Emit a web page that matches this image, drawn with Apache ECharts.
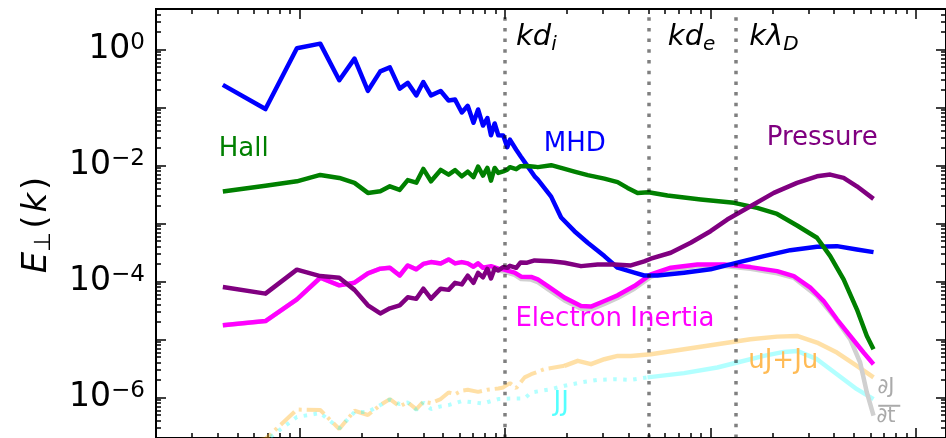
<!DOCTYPE html>
<html>
<head>
<meta charset="utf-8">
<title>Perpendicular electric field spectrum</title>
<script src="https://cdn.jsdelivr.net/npm/echarts@6.0.0/dist/echarts.min.js"></script>
<style>
  html, body { margin: 0; padding: 0; background: #fff; }
  #chart { width: 946px; height: 438px; }
</style>
</head>
<body>
<div id="chart"></div>
<script>
// ---- spectra of the terms of E_perp(k), k in units of 1/d_i ----
const kMHD = [0.0423, 0.0682, 0.097, 0.126, 0.156, 0.185, 0.215, 0.247, 0.275, 0.307,
  0.336, 0.370, 0.400, 0.436, 0.486, 0.531, 0.571, 0.616, 0.658, 0.702,
  0.739, 0.781, 0.820, 0.854, 0.890, 0.927, 0.980, 1.025, 1.056, 1.133,
  1.190, 1.281, 1.392, 1.444, 1.676, 1.874, 2.176, 2.525, 3.043, 3.530,
  4.255, 4.756, 5.520, 7.436, 10.0, 13.49, 18.18, 24.47, 32.97, 41.24, 51.56, 62.14];
const eMHD = [0.246, 0.094, 1.053, 1.263, 0.296, 0.697, 0.194, 0.420, 0.492, 0.212,
  0.266, 0.162, 0.275, 0.162, 0.193, 0.132, 0.137, 0.0821, 0.107, 0.0546,
  0.0925, 0.0489, 0.0658, 0.0333, 0.0531, 0.0333, 0.0329, 0.0207, 0.0279, 0.0187,
  0.0144, 0.00994, 0.00651, 0.00571, 0.00291, 0.00127, 7.37e-4, 4.65e-4, 2.74e-4, 1.73e-4,
  1.42e-4, 1.27e-4, 1.27e-4, 1.42e-4, 1.62e-4, 2.11e-4, 2.74e-4, 3.47e-4, 3.97e-4, 4.07e-4, 3.57e-4, 3.21e-4];

const kHall = [0.0423, 0.0682, 0.097, 0.126, 0.156, 0.185, 0.215, 0.247, 0.275, 0.307,
  0.336, 0.370, 0.400, 0.436, 0.486, 0.531, 0.571, 0.616, 0.658, 0.702,
  0.739, 0.781, 0.820, 0.854, 0.890, 0.927, 0.980, 1.025, 1.056, 1.133,
  1.190, 1.281, 1.392, 1.444, 1.676, 1.874, 2.176, 2.525, 3.043, 3.530,
  3.947, 4.414, 4.99, 6.171, 8.954, 13.00, 16.87, 21.10, 26.37, 32.97,
  38.25, 44.44, 51.56, 57.66, 62.14];
const eHall = [0.00355, 0.00447, 0.00534, 0.00688, 0.00611, 0.00501, 0.00337, 0.00359, 0.00438, 0.0038,
  0.0056, 0.00507, 0.00873, 0.00534, 0.00839, 0.00697, 0.00832, 0.00651, 0.00784, 0.0063,
  0.00956, 0.00669, 0.00908, 0.00549, 0.00908, 0.00745, 0.00793, 0.00849, 0.00937, 0.00866,
  0.00975, 0.00983, 0.00956, 0.00937, 0.01014, 0.00908, 0.00784, 0.00683, 0.00594, 0.00517,
  0.00411, 0.00337, 0.00345, 0.00303, 0.00259, 0.00227, 0.00186, 0.00146, 9.23e-4, 5.67e-4,
  2.74e-4, 1.09e-4, 3.31e-5, 1.15e-5, 6.8e-6];

const kPressure = [0.0423, 0.0682, 0.097, 0.126, 0.156, 0.185, 0.215, 0.247, 0.275, 0.307,
  0.336, 0.370, 0.400, 0.436, 0.486, 0.531, 0.571, 0.616, 0.658, 0.702,
  0.739, 0.781, 0.820, 0.854, 0.890, 0.927, 0.980, 1.025, 1.056, 1.133,
  1.190, 1.281, 1.392, 1.676, 1.946, 2.343, 2.823, 3.402, 4.096, 4.756,
  5.122, 6.404, 8.007, 10.0, 12.06, 15.65, 20.33, 26.37, 32.97, 38.25,
  44.44, 51.56, 62.14];
const ePressure = [8.02e-5, 6.17e-5, 1.60e-4, 1.24e-4, 1.16e-4, 7.17e-5, 3.88e-5, 2.81e-5, 3.45e-5, 3.88e-5,
  5.33e-5, 5.02e-5, 7.52e-5, 5.06e-5, 7.52e-5, 7.17e-5, 9.47e-5, 8.92e-5, 1.26e-4, 9.47e-5,
  1.41e-4, 1.18e-4, 1.65e-4, 1.13e-4, 1.68e-4, 1.55e-4, 1.78e-4, 1.72e-4, 1.86e-4, 1.72e-4,
  2.13e-4, 2.11e-4, 2.31e-4, 2.24e-4, 2.11e-4, 1.84e-4, 1.97e-4, 1.97e-4, 1.89e-4, 2.22e-4,
  2.47e-4, 3.13e-4, 4.65e-4, 7.37e-4, 1.17e-3, 1.98e-3, 3.37e-3, 5.01e-3, 6.51e-3, 6.97e-3,
  6.11e-3, 4.38e-3, 2.66e-3];

const kInertia = [0.0423, 0.0682, 0.097, 0.126, 0.156, 0.185, 0.215, 0.247, 0.275, 0.307,
  0.336, 0.370, 0.400, 0.436, 0.486, 0.531, 0.571, 0.616, 0.658, 0.702,
  0.739, 0.781, 0.854, 0.927, 0.980, 1.113, 1.198, 1.340, 1.444, 1.615,
  1.946, 2.343, 2.620, 3.043, 3.530, 4.255, 5.122, 6.404, 8.630, 11.63,
  15.65, 21.10, 25.42, 30.60, 35.54, 41.24, 47.84, 55.57, 62.14];
const eInertia = [1.76e-5, 2.08e-5, 4.93e-5, 1.16e-4, 8.58e-5, 9.54e-5, 1.38e-4, 1.66e-4, 1.73e-4, 1.27e-4,
  1.89e-4, 1.62e-4, 2.01e-4, 2.16e-4, 2.05e-4, 2.40e-4, 2.05e-4, 2.16e-4, 2.05e-4, 1.80e-4,
  2.05e-4, 1.73e-4, 1.84e-4, 1.66e-4, 1.62e-4, 1.42e-4, 1.21e-4, 1.20e-4, 1.09e-4, 8.34e-5,
  5.27e-5, 3.78e-5, 3.69e-5, 4.60e-5, 5.77e-5, 8.34e-5, 1.33e-4, 1.73e-4, 1.97e-4, 1.97e-4,
  1.77e-4, 1.51e-4, 1.24e-4, 7.83e-5, 4.60e-5, 2.23e-5, 1.15e-5, 5.96e-6, 3.75e-6];

const kDJdt = [0.0423, 0.0682, 0.097, 0.126, 0.156, 0.185, 0.215, 0.247, 0.275, 0.307,
  0.336, 0.370, 0.400, 0.436, 0.486, 0.531, 0.571, 0.616, 0.658, 0.702,
  0.739, 0.781, 0.854, 0.927, 0.980, 1.113, 1.198, 1.340, 1.444, 1.615,
  1.946, 2.343, 2.620, 3.043, 3.530, 4.255, 5.122, 6.404, 8.630, 11.63,
  15.65, 21.10, 25.42, 32.97, 39.73, 47.84, 53.49, 57.66, 62.14];
const eDJdt = [1.76e-5, 2.08e-5, 4.93e-5, 1.16e-4, 8.58e-5, 9.54e-5, 1.38e-4, 1.66e-4, 1.73e-4, 1.27e-4,
  1.89e-4, 1.62e-4, 2.01e-4, 2.16e-4, 2.05e-4, 2.40e-4, 2.05e-4, 2.16e-4, 2.05e-4, 1.80e-4,
  2.05e-4, 1.73e-4, 1.72e-4, 1.55e-4, 1.50e-4, 1.30e-4, 1.10e-4, 1.08e-4, 9.7e-5, 7.4e-5,
  4.7e-5, 3.4e-5, 3.3e-5, 4.1e-5, 5.2e-5, 7.5e-5, 1.2e-4, 1.6e-4, 1.85e-4, 1.85e-4,
  1.65e-4, 1.38e-4, 1.16e-4, 5.61e-5, 2.54e-5, 1.01e-5, 4.01e-6, 1.22e-6, 4.84e-7];

const kUJ = [0.0423, 0.0682, 0.097, 0.126, 0.156, 0.185, 0.215, 0.247, 0.275, 0.307,
  0.336, 0.370, 0.400, 0.436, 0.486, 0.531, 0.571, 0.616, 0.658, 0.739,
  0.820, 0.927, 0.980, 1.056, 1.133, 1.245, 1.340, 1.556, 1.946, 2.258,
  2.620, 3.043, 3.530, 4.096, 5.122, 7.436, 10.79, 15.65, 21.10, 26.37,
  32.97, 41.24, 51.56, 62.14];
const eUJ = [1.5e-7, 1.92e-7, 6.19e-7, 6.07e-7, 2.86e-7, 5.90e-7, 4.98e-7, 7.39e-7, 9.38e-7, 7.02e-7,
  8.23e-7, 6.31e-7, 8.43e-7, 8.00e-7, 9.38e-7, 1.22e-6, 1.14e-6, 1.31e-6, 1.36e-6, 1.25e-6,
  1.36e-6, 1.43e-6, 1.49e-6, 1.77e-6, 1.45e-6, 2.22e-6, 2.52e-6, 3.08e-6, 3.51e-6, 4.28e-6,
  3.75e-6, 4.57e-6, 5.21e-6, 5.21e-6, 5.57e-6, 6.80e-6, 8.29e-6, 1.01e-5, 1.12e-5, 1.15e-5,
  8.86e-6, 5.96e-6, 3.51e-6, 2.22e-6];

const kJJ = [0.0423, 0.0682, 0.097, 0.126, 0.156, 0.185, 0.215, 0.247, 0.275, 0.307,
  0.336, 0.370, 0.400, 0.436, 0.486, 0.531, 0.616, 0.702, 0.781, 0.854,
  0.927, 1.056, 1.245, 1.340, 1.676, 1.946, 2.343, 2.823, 3.402, 4.096,
  4.935, 7.436, 10.79, 13.49, 18.18, 22.73, 26.37, 32.97, 41.24, 51.56, 62.14];
const eJJ = [1.2e-7, 1.8e-7, 4.60e-7, 5.39e-7, 2.94e-7, 5.61e-7, 5.61e-7, 7.39e-7, 9.19e-7, 7.69e-7,
  8.16e-7, 6.14e-7, 8.16e-7, 6.31e-7, 7.02e-7, 7.39e-7, 8.66e-7, 8.23e-7, 7.85e-7, 8.66e-7,
  9.38e-7, 9.56e-7, 9.64e-7, 1.22e-6, 1.39e-6, 1.59e-6, 1.82e-6, 2.01e-6, 2.07e-6, 2.01e-6,
  2.22e-6, 2.63e-6, 3.29e-6, 4.01e-6, 5.21e-6, 6.11e-6, 6.35e-6, 4.57e-6, 2.52e-6, 1.39e-6, 9.38e-7];

// characteristic scales: k d_i = 1, k d_e = 1, k lambda_D = 1
const scaleK = [1.0, 5.0, 13.34];
const scaleNames = [['kd', 'i'], ['kd', 'e'], ['k\u03bb', 'D']];

// axis ranges and tick values
const X_RANGE = [0.02, 140];
const Y_RANGE = [2e-7, 5];
const xMajorTicks = [0.1, 1, 10, 100];
const xMinorTicks = [0.03, 0.04, 0.05, 0.06, 0.07, 0.08, 0.09,
  0.2, 0.3, 0.4, 0.5, 0.6, 0.7, 0.8, 0.9,
  2, 3, 4, 5, 6, 7, 8, 9,
  20, 30, 40, 50, 60, 70, 80, 90];
const yMajorTicks = [1e-6, 1e-5, 1e-4, 1e-3, 1e-2, 1e-1, 1];
const yLabelTicks = [1e-6, 1e-4, 1e-2, 1];
const yMinorTicks = [3e-7, 4e-7, 5e-7, 6e-7, 7e-7, 8e-7, 9e-7,
  2e-6, 3e-6, 4e-6, 5e-6, 6e-6, 7e-6, 8e-6, 9e-6,
  2e-5, 3e-5, 4e-5, 5e-5, 6e-5, 7e-5, 8e-5, 9e-5,
  2e-4, 3e-4, 4e-4, 5e-4, 6e-4, 7e-4, 8e-4, 9e-4,
  2e-3, 3e-3, 4e-3, 5e-3, 6e-3, 7e-3, 8e-3, 9e-3,
  0.02, 0.03, 0.04, 0.05, 0.06, 0.07, 0.08, 0.09,
  0.2, 0.3, 0.4, 0.5, 0.6, 0.7, 0.8, 0.9,
  2, 3, 4];

// ---- drawing ----
const FONT = '"DejaVu Sans", sans-serif';
const INK = '#000';
const decades = v => Math.log10(v);

const zip = (ks, vs) => ks.map((k, i) => [k, vs[i]]);

// log axes that carry the data (spines only)
function dataAxis(range, position) {
  return {
    type: 'log', logBase: 10, min: range[0], max: range[1], position,
    axisLine: { show: true, onZero: false, lineStyle: { color: INK, width: 2 } },
    axisTick: { show: false },
    axisLabel: { show: false },
    splitLine: { show: false }
  };
}
// companion axes measured in decades, used for the inward tick marks
function tickAxis(range, position, ticks, len) {
  return {
    type: 'value', min: decades(range[0]), max: decades(range[1]), position,
    axisLine: { show: true, onZero: false, lineStyle: { color: INK, width: 2 } },
    axisTick: { show: true, inside: true, length: len, customValues: ticks.map(decades),
      lineStyle: { color: INK, width: 1.5 } },
    axisLabel: { show: false },
    splitLine: { show: false }
  };
}

const yMain = dataAxis(Y_RANGE, 'left');
yMain.axisLabel = {
  show: true, customValues: yLabelTicks, margin: 11,
  formatter: v => {
    const e = v > 0 ? Math.round(Math.log10(v)) : Math.round(v);
    return '{b|10}{s|' + (e < 0 ? '\u2212' + (-e) : String(e)) + '}';
  },
  rich: {
    b: { fontFamily: FONT, fontSize: 33, color: INK, lineHeight: 36 },
    s: { fontFamily: FONT, fontSize: 23, color: INK, lineHeight: 20, verticalAlign: 'top' }
  }
};
yMain.name = '{e|E}{sub|\u22a5}{p|(}{k|k}{p|)}';
yMain.nameLocation = 'middle';
yMain.nameRotate = 90;
yMain.nameGap = 100;
yMain.nameTextStyle = {
  rich: {
    e: { fontFamily: FONT, fontSize: 34, fontStyle: 'italic', color: INK, lineHeight: 38 },
    sub: { fontFamily: FONT, fontSize: 23, color: INK, lineHeight: 20, verticalAlign: 'bottom' },
    p: { fontFamily: FONT, fontSize: 34, color: INK, lineHeight: 38, padding: [0, 3] },
    k: { fontFamily: FONT, fontSize: 34, fontStyle: 'italic', color: INK, lineHeight: 38 }
  }
};

function nameTag(coord, text, color, size) {
  return {
    symbol: 'circle', symbolSize: 1, silent: true,
    itemStyle: { color: 'rgba(0,0,0,0)' },
    label: { show: true, position: 'right', distance: 0, formatter: text,
      color, fontFamily: FONT, fontSize: size },
    data: [{ coord }]
  };
}

function curve(name, ks, vs, color, width, extra) {
  return Object.assign({
    type: 'line', name, data: zip(ks, vs), symbol: 'none', showSymbol: false,
    xAxisIndex: 0, yAxisIndex: 0, silent: true,
    lineStyle: { color, width, join: 'round', cap: 'butt' },
    itemStyle: { color }
  }, extra || {});
}

const ORANGE = 'rgba(255,165,0,0.35)';
const CYAN = 'rgba(0,255,255,0.3)';
const GREY = '#d0d0d0';

// the densely sampled high-k part of the weak terms reads as a continuous band
const UJ_SOLID_FROM = 1.946;
const JJ_SOLID_FROM = 4.935;
const ujData = zip(kUJ, eUJ);
const jjData = zip(kJJ, eJJ);

const series = [
  curve('uJ+Ju', [], [], ORANGE, 4, {
    data: ujData.filter(p => p[0] <= UJ_SOLID_FROM),
    lineStyle: { color: ORANGE, width: 4, type: [19, 5, 3, 5], cap: 'butt' } }),
  curve('uJ+Ju', [], [], ORANGE, 4.5, {
    data: ujData.filter(p => p[0] >= UJ_SOLID_FROM),
    markPoint: nameTag([15.17, 4.14e-6], 'uJ+Ju', '#ffbb55', 26) }),
  curve('JJ', [], [], CYAN, 4, {
    data: jjData.filter(p => p[0] <= JJ_SOLID_FROM),
    lineStyle: { color: CYAN, width: 4, type: [3.5, 6.5], cap: 'butt' },
    markPoint: nameTag([1.713, 7.85e-7], 'JJ', '#55ffff', 26) }),
  curve('JJ', [], [], CYAN, 4.5, {
    data: jjData.filter(p => p[0] >= JJ_SOLID_FROM) }),
  curve('dJ/dt', kDJdt, eDJdt, GREY, 4.5, {
    markPoint: {
      symbol: 'circle', symbolSize: 1, silent: true,
      itemStyle: { color: 'rgba(0,0,0,0)' },
      label: { show: true, position: 'inside', color: '#aaaaaa', fontFamily: FONT, fontSize: 21 },
      data: [
        { coord: [71.45, 1.485e-6], label: { formatter: '\u2202J' } },
        { coord: [71.45, 4.60e-7], label: { formatter: '\u2202t' } },
        { coord: [74.13, 7.19e-7], symbol: 'rect', symbolSize: [22, 2],
          itemStyle: { color: '#aaaaaa' }, label: { show: false } }
      ]
    } }),
  curve('Electron Inertia', kInertia, eInertia, '#ff00ff', 4.5, {
    markPoint: nameTag([1.117, 2.26e-5], 'Electron Inertia', '#ff00ff', 26) }),
  curve('MHD', kMHD, eMHD, '#0000ff', 4.5, {
    markPoint: nameTag([1.534, 0.02331], 'MHD', '#0000ff', 26) }),
  curve('Hall', kHall, eHall, '#008000', 4.5, {
    markPoint: nameTag([0.04018, 0.01912], 'Hall', '#008000', 26) }),
  curve('Pressure', kPressure, ePressure, '#800080', 4.5, {
    markPoint: nameTag([18.66, 0.02898], 'Pressure', '#800080', 26) }),
  {
    type: 'line', name: 'scales', data: [], silent: true,
    xAxisIndex: 0, yAxisIndex: 0, z: 5,
    markLine: {
      symbol: ['none', 'none'], silent: true, label: { show: false },
      lineStyle: { color: 'rgba(0,0,0,0.5)', width: 3.5, type: [3.5, 7.2], cap: 'butt' },
      data: scaleK.map(k => ({ xAxis: k }))
    },
    markPoint: {
      symbol: 'circle', symbolSize: 1, silent: true,
      itemStyle: { color: 'rgba(0,0,0,0)' },
      label: {
        show: true, position: 'right', distance: 0,
        rich: {
          m: { fontFamily: FONT, fontSize: 29, fontStyle: 'italic', color: INK, lineHeight: 34 },
          s: { fontFamily: FONT, fontSize: 20, fontStyle: 'italic', color: INK, lineHeight: 20, verticalAlign: 'bottom' }
        }
      },
      data: scaleNames.map((nm, i) => ({
        coord: [[1.124, 6.165, 15.36][i], 1.584],
        label: { formatter: '{m|' + nm[0] + '}{s|' + nm[1] + '}' }
      }))
    }
  }
];

const chart = echarts.init(document.getElementById('chart'), null, { renderer: 'canvas' });
chart.setOption({
  animation: false,
  backgroundColor: '#fff',
  grid: { left: 156, top: 9, width: 792.5, height: 430, containLabel: false },
  xAxis: [
    dataAxis(X_RANGE, 'bottom'),
    tickAxis(X_RANGE, 'bottom', xMajorTicks, 10),
    tickAxis(X_RANGE, 'bottom', xMinorTicks, 5),
    tickAxis(X_RANGE, 'top', xMajorTicks, 10),
    tickAxis(X_RANGE, 'top', xMinorTicks, 5)
  ],
  yAxis: [
    yMain,
    tickAxis(Y_RANGE, 'left', yMajorTicks, 10),
    tickAxis(Y_RANGE, 'left', yMinorTicks, 5),
    tickAxis(Y_RANGE, 'right', yMajorTicks, 10),
    tickAxis(Y_RANGE, 'right', yMinorTicks, 5)
  ],
  series
});
</script>
</body>
</html>
